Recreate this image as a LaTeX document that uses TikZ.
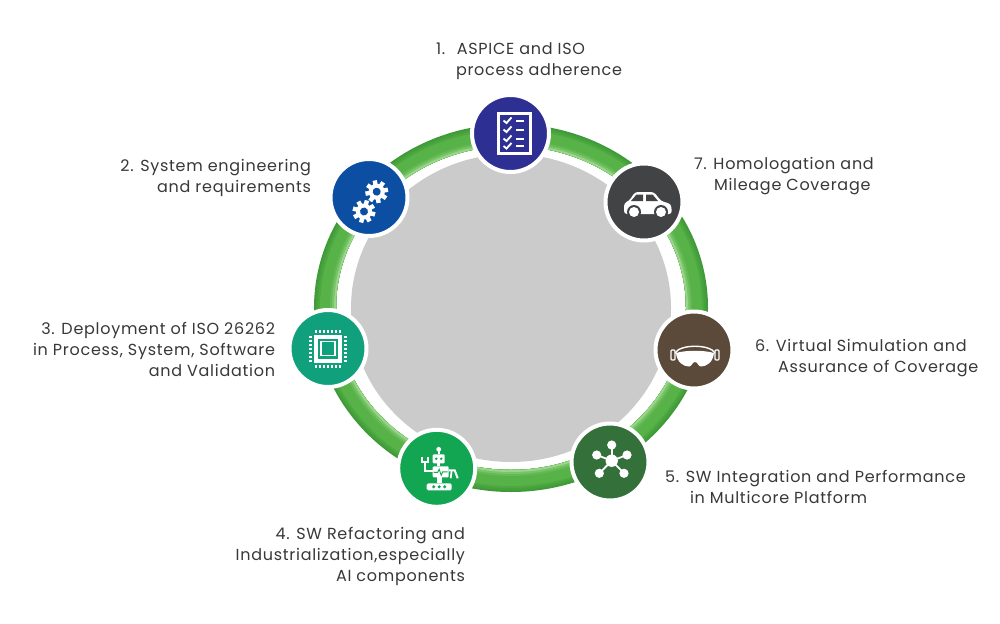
\documentclass[tikz,border=0pt]{standalone}
\usepackage{fontspec}
\usetikzlibrary{calc}
\setmainfont{Poppins}[LetterSpace=4.5]
\definecolor{ringdark}{HTML}{3F9A38}
\definecolor{ringmid}{HTML}{57B248}
\definecolor{ringlight}{HTML}{9AD68A}
\definecolor{discgray}{HTML}{CBCBCB}
\definecolor{txt}{HTML}{383838}
\definecolor{cblue}{HTML}{2E2F92}
\definecolor{cgear}{HTML}{0B4EA2}
\definecolor{cchip}{HTML}{11A07C}
\definecolor{crobot}{HTML}{12A552}
\definecolor{cnet}{HTML}{33703A}
\definecolor{cbrown}{HTML}{5B4A3A}
\definecolor{ccar}{HTML}{414345}
\tikzset{
  x=1pt,y=-1pt,
  badge/.style={circle,draw=white,line width=4pt,minimum size=77pt,inner sep=0pt,outer sep=0pt},
  lab/.style={text=txt,font=\fontsize{16}{21}\selectfont,inner sep=0pt,outer sep=0pt},
}
\newcommand{\gearicon}[3]{%
  \begin{scope}[shift={(#1)},rotate=#3]
    \foreach \a in {0,45,...,315}{\fill[white,rotate=\a] (-2.2,-#2-3.4) rectangle (2.2,-#2+2);}
    \fill[white] (0,0) circle (#2);
    \fill[cgear] (0,0) circle (#2*0.5);
  \end{scope}}
\begin{document}
\begin{tikzpicture}
\useasboundingbox[fill=white] (0,0) rectangle (1000,623);
\coordinate (ctr) at (511,308);
% ring: inner edge fixed, outer edge moving in, dark outside to light inside
\foreach \i/\c in {0/ringdark,1/ringdark!70!ringmid,2/ringdark!40!ringmid,3/ringmid,4/ringmid,5/ringmid,6/ringmid,7/ringmid,8/ringmid!80!ringlight,9/ringmid!50!ringlight,10/ringlight}{
  \draw[\c,line width={22pt-2pt*\i}] (ctr) ellipse [x radius={186-\i},y radius={173-\i}];
}
\fill[discgray] (ctr) ellipse [x radius=160,y radius=154];
% badges
\node[badge,fill=cblue]  (n1) at (510.5,133.5) {};
\node[badge,fill=cgear]  (n2) at (369,197.5) {};
\node[badge,fill=cchip]  (n3) at (328,348.5) {};
\node[badge,fill=crobot] (n4) at (436.7,468.3) {};
\node[badge,fill=cnet]   (n5) at (610,462) {};
\node[badge,fill=cbrown] (n6) at (694,350) {};
\node[badge,fill=ccar]   (n7) at (644,202) {};
% icon 1 checklist
\begin{scope}[shift={(n1)}]
  \draw[white,line width=2.2pt] (-12,-20) rectangle (20,20);
  \foreach \y in {-13,-4,5,12.5}{
    \draw[white,line width=1.9pt] (-7,\y) -- (-4,\y+2.5) -- (1,\y-3);
    \draw[white,line width=2pt] (5,\y) -- (13.5,\y);
  }
\end{scope}
% icon 2 gears
\gearicon{$(n2)+(7.7,-5.8)$}{8}{10}
\gearicon{$(n2)+(-5,14)$}{8}{30}
% icon 3 chip
\begin{scope}[shift={(n3)}]
  \draw[white,line width=4pt] (-12,-12) rectangle (12,12);
  \draw[white,line width=1.6pt] (-7,-7) rectangle (7,7);
  \foreach \t in {-12,-8,-4,0,4,8,12}{
    \fill[white] (\t-1,-19) rectangle (\t+1,-16);
    \fill[white] (\t-1,16) rectangle (\t+1,19);
    \fill[white] (-19,\t-1) rectangle (-16,\t+1);
    \fill[white] (16,\t-1) rectangle (19,\t+1);
  }
\end{scope}
% icon 4 robot
\begin{scope}[shift={(n4)}]
  \fill[white] (2,-19) circle (2.4);
  \fill[white] (1,-18) rectangle (3,-14);
  \fill[white,rounded corners=1pt] (-4,-14) rectangle (8,-5);
  \fill[crobot] (-0.5,-9.5) circle (1.4) (4.5,-9.5) circle (1.4);
  \fill[white] (0.5,-5) rectangle (3.5,-2);
  \fill[white,rounded corners=1pt] (-4,-2) rectangle (12,9);
  \draw[crobot,line width=0.9pt] (-3,4) -- (1,4) -- (2.5,1) -- (4.5,7) -- (6,3.5) -- (11,3.5);
  \fill[white] (0,9) rectangle (5,15);
  \fill[white,rounded corners=1.5pt] (-10,15) rectangle (15,22);
  \fill[crobot] (-3,18.5) circle (1.7) (2.5,18.5) circle (1.7) (8,18.5) circle (1.7);
  \draw[white,line width=2pt] (-4,3) -- (-12,3) -- (-12,-5);
  \draw[white,line width=1.8pt] (-15,-11) -- (-15,-6) -- (-9,-6) -- (-9,-11);
  \draw[white,line width=2pt] (12,2) -- (18,2) -- (21,10);
  \draw[white,line width=1.8pt] (15,2) -- (14,10);
\end{scope}
% icon 5 network
\begin{scope}[shift={(n5)}]
  \coordinate (hub) at (1.7,-1.3);
  \foreach \p in {(1.7,-17),(17,-7),(14,11.3),(-10.7,11.3),(-13.3,-7)}{
    \draw[white,line width=1.8pt] (hub) -- \p;
    \fill[white] \p circle (4.6);
  }
  \fill[white] (hub) circle (6.2);
\end{scope}
% icon 6 goggles
\begin{scope}[shift={(n6)}]
  \draw[white,line width=1.3pt,rounded corners=1pt] (-23,0) rectangle (-19,10);
  \draw[white,line width=1.3pt,rounded corners=1pt] (21,0) rectangle (25,10);
  \draw[white,line width=1.4pt] (-19,3) .. controls (-14,-6) and (16,-6) .. (21,3);
  \fill[white] (-18,3) .. controls (-8,0) and (10,0) .. (20,3)
    .. controls (19,12) and (13,16.5) .. (7,16.5) .. controls (4,16.5) and (4,12) .. (1,12)
    .. controls (-2,12) and (-2,16.5) .. (-5,16.5) .. controls (-11,16.5) and (-17,12) .. (-18,3) -- cycle;
\end{scope}
% icon 7 car
\begin{scope}[shift={(n7)}]
  \fill[white,rounded corners=3pt] (-20,12) -- (-20,1) -- (-15,-1) -- (-9,-10) -- (10,-10) -- (17,-1) -- (27,2) -- (28,12) -- cycle;
  \fill[ccar] (-13,-1) -- (-7.5,-7.5) -- (-1,-7.5) -- (-1,-1) -- cycle;
  \fill[ccar] (2,-7.5) -- (8.5,-7.5) -- (14,-1) -- (2,-1) -- cycle;
  \fill[ccar] (-10,10) circle (7) (17,10) circle (7);
  \fill[white] (-10,10) circle (5) (17,10) circle (5);
\end{scope}
% labels
\node[lab,anchor=north west,align=left] (t1) at (436,43) {1.\hspace{5pt} ASPICE and ISO\\\hspace*{20pt}process adherence};
\node[lab,anchor=north east,align=right] (t2) at (311,159) {2. System engineering\\and requirements};
\node[lab,anchor=north east,align=right] (t3) at (275,322) {3. Deployment of ISO 26262\\in Process, System, Software\\and Validation};
\node[lab,anchor=north east,align=right] (t4) at (465,527) {4. SW Refactoring and\\Industrialization,especially\\AI components};
\node[lab,anchor=north west,align=left] (t5) at (665,470) {5. SW Integration and Performance\\\hspace*{25pt}in Multicore Platform};
\node[lab,anchor=north west,align=left] (t6) at (755,339) {6. Virtual Simulation and\\\hspace*{23pt}Assurance of Coverage};
\node[lab,anchor=north west,align=left] (t7) at (694,157) {7. Homologation and\\\hspace*{20pt}Mileage Coverage};
\end{tikzpicture}
\end{document}
